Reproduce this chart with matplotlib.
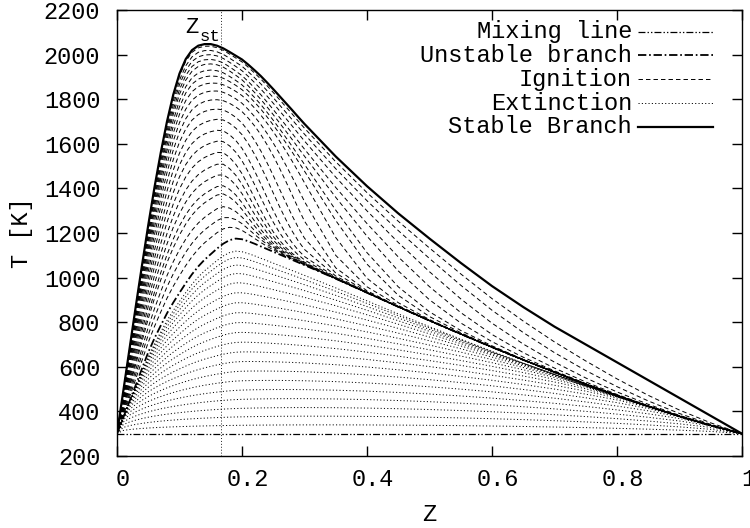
import numpy as np
import matplotlib.pyplot as plt
import matplotlib.transforms as mtransforms
from matplotlib.lines import Line2D

plt.rcParams['font.family'] = ['Liberation Mono', 'DejaVu Sans Mono']
plt.rcParams['lines.scale_dashes'] = False

# mixture fraction grid shared by the steady branches
z = [0.00, 0.01, 0.02, 0.03, 0.04, 0.05, 0.06, 0.07, 0.08, 0.09,
     0.10, 0.11, 0.12, 0.13, 0.14, 0.15, 0.16, 0.17, 0.18, 0.19,
     0.20, 0.21, 0.22, 0.23, 0.24, 0.25, 0.26, 0.27, 0.28, 0.29,
     0.30, 0.35, 0.40, 0.45, 0.50, 0.55, 0.60, 0.65, 0.70, 0.75,
     0.80, 0.85, 0.90, 0.95, 1.00]

t_stable = [300, 490, 680, 870, 1055, 1235, 1405, 1560, 1700, 1820,
            1915, 1980, 2020, 2040, 2047, 2047, 2040, 2028, 2012, 1995,
            1978, 1955, 1930, 1904, 1875, 1845, 1814, 1783, 1752, 1720,
            1689, 1543, 1410, 1288, 1175, 1066, 962, 868, 780, 700,
            620, 540, 460, 380, 300]

t_unstable = [300, 372, 445, 518, 592, 665, 728, 785, 840, 888,
              932, 975, 1015, 1050, 1080, 1105, 1130, 1152, 1168, 1175,
              1172, 1163, 1152, 1140, 1128, 1116, 1104, 1092, 1080, 1068,
              1056, 995, 932, 869, 807, 747, 688, 631, 576, 522,
              471, 423, 378, 337, 300]

z_mix = [0.0, 1.0]
t_mix = [300, 300]

Z_ST = 0.166

# ignition snapshots: temperature at Z_st, front position and front width
ign_peak = [2024, 2006, 1988, 1968, 1949, 1923, 1898, 1868, 1834, 1796, 1755,
            1710, 1662, 1614, 1565, 1513, 1465, 1415, 1378, 1318, 1266, 1213]
ign_front = [0.80, 0.66, 0.55, 0.47, 0.42, 0.38, 0.36, 0.335, 0.31, 0.29, 0.27,
             0.255, 0.24, 0.23, 0.22, 0.215, 0.21, 0.205, 0.20, 0.20, 0.20, 0.20]
ign_width = [0.15, 0.14, 0.12, 0.10, 0.08, 0.06, 0.05, 0.04, 0.035, 0.03, 0.03,
             0.028, 0.027, 0.026, 0.025, 0.025, 0.025, 0.025, 0.025, 0.025, 0.025, 0.025]

# extinction snapshots: peak temperature
ext_peak = [340, 380, 420, 462, 505, 548, 592, 636, 680, 724,
            768, 812, 856, 900, 944, 988, 1030, 1070, 1110, 1150]

Z = np.array(z)
S = np.array(t_stable, dtype=float)
U = np.array(t_unstable, dtype=float)

fig = plt.figure(figsize=(7.5, 5.28), dpi=100)
ax = fig.add_axes([117 / 750, 72 / 528, 625 / 750, 446 / 528])

mix_style = dict(color='black', lw=0.9, dashes=(5, 1.5, 1, 1.5, 1, 1.5))
uns_style = dict(color='black', lw=1.3, dashes=(6, 2, 1.2, 2))
ign_style = dict(color='black', lw=0.7, dashes=(3.2, 2.2))
ext_style = dict(color='black', lw=0.7, dashes=(0.8, 1.6))
stb_style = dict(color='black', lw=1.6, ls='-')

# extinction: decay from the unstable branch towards the mixing line
th_u = U - 300.0
th_max = th_u.max()
phi = Z ** 0.35 * (1 - Z) ** 0.65
phi = phi / phi.max()
n = 14.0
for a in ext_peak:
    amp = a - 300.0
    w = amp / th_max
    shape = amp * (w * th_u / th_max + (1 - w) * phi)
    th = np.zeros_like(Z)
    ok = (shape > 0) & (th_u > 0)
    th[ok] = (shape[ok] ** -n + th_u[ok] ** -n) ** (-1.0 / n)
    ax.plot(Z, 300 + th, **ext_style)

# ignition: rise from the unstable towards the stable branch
u_st = np.interp(Z_ST, Z, U)
s_st = np.interp(Z_ST, Z, S)
for pk, zf, wd in zip(ign_peak, ign_front, ign_width):
    p = (pk - u_st) / (s_st - u_st)
    sig = 1.0 / (1.0 + np.exp((Z - zf) / wd))
    sig0 = 1.0 / (1.0 + np.exp((Z_ST - zf) / wd))
    ratio = np.where(Z <= Z_ST, 1.0, np.minimum(sig / sig0, 1.0))
    ax.plot(Z, U + (S - U) * p * ratio, **ign_style)

ax.plot(z_mix, t_mix, **mix_style)
ax.plot(Z, U, **uns_style)
ax.plot(Z, S, **stb_style)

ax.axvline(Z_ST, color='black', lw=0.6, dashes=(0.7, 1.4))

ax.set_xlim(0, 1)
ax.set_ylim(200, 2200)
ax.set_xticks([0, 0.2, 0.4, 0.6, 0.8, 1.0])
ax.set_xticklabels(['0', '0.2', '0.4', '0.6', '0.8', '1'])
ax.set_yticks(range(200, 2201, 200))
ax.tick_params(direction='in', length=7, width=1, top=True, right=True,
               labelsize=17, colors='black')
ax.tick_params(axis='x', pad=9)
ax.tick_params(axis='y', pad=12)
for lab in ax.get_xticklabels():
    lab.set_transform(lab.get_transform() +
                      mtransforms.ScaledTranslation(6 / 100, 0, fig.dpi_scale_trans))
for sp in ax.spines.values():
    sp.set_linewidth(1.0)

ax.set_xlabel('Z', fontsize=17, va='center')
ax.xaxis.set_label_coords(0.5, -0.132)
ax.set_ylabel('T [K]', fontsize=17, va='center')
ax.yaxis.set_label_coords(-0.1536, 0.5)

# Z_st label next to the vertical line
tr = mtransforms.blended_transform_factory(ax.transData, ax.transAxes)
ax.text(0.131, 0.948, 'Z', transform=tr, ha='right', va='baseline', fontsize=16)
ax.text(Z_ST, 0.931, 'st', transform=tr, ha='right', va='baseline', fontsize=12.5)

# key in the upper right corner, text right-aligned before the sample
labels = ['Mixing line', 'Unstable branch', 'Ignition', 'Extinction', 'Stable Branch']
styles = [mix_style, uns_style, ign_style, ext_style, stb_style]
rows = [0.951, 0.899, 0.845, 0.791, 0.738]
for lab, st, yy in zip(labels, styles, rows):
    ax.text(0.824, yy, lab, transform=ax.transAxes, ha='right', va='center', fontsize=17)
    ax.add_line(Line2D([0.834, 0.954], [yy, yy], transform=ax.transAxes, **st))

fig.savefig('out.png', dpi=100)
